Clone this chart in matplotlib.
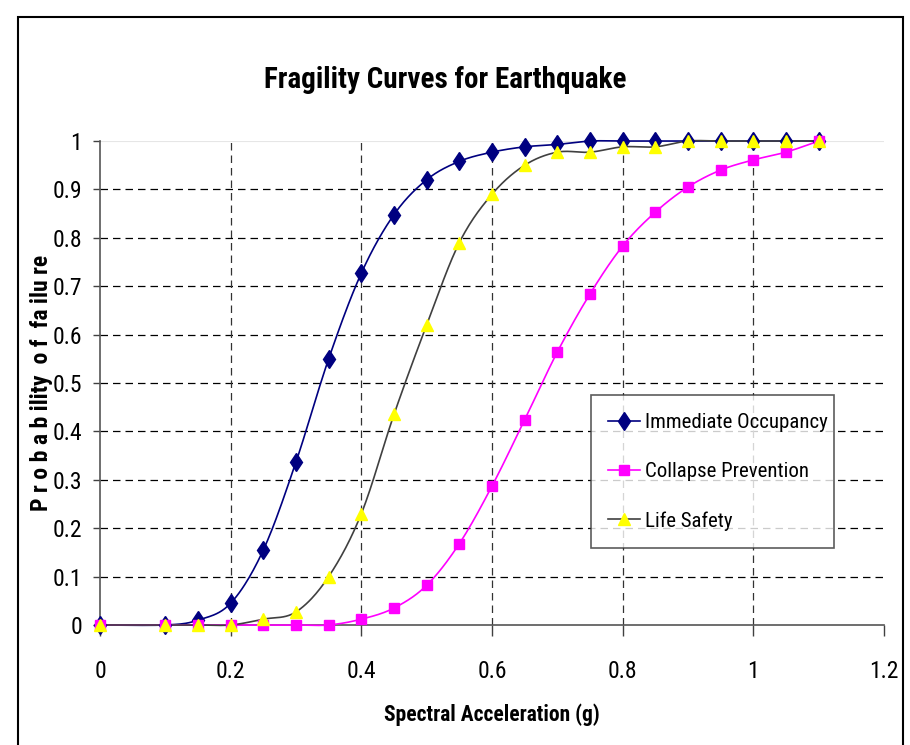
import numpy as np
import matplotlib.pyplot as plt
from matplotlib.patches import Rectangle

plt.rcParams['font.family'] = ['Roboto Condensed', 'PT Sans Narrow', 'DejaVu Sans']

# Spectral acceleration (g) and probability of failure per performance level
sa = [0, 0.1, 0.15, 0.2, 0.25, 0.3, 0.35, 0.4, 0.45, 0.5, 0.55, 0.6, 0.65,
      0.7, 0.75, 0.8, 0.85, 0.9, 0.95, 1.0, 1.05, 1.1]
immediate_occupancy = [0, 0, 0.01, 0.045, 0.155, 0.337, 0.55, 0.727, 0.848, 0.92,
                       0.958, 0.977, 0.988, 0.993, 1, 1, 1, 1, 1, 1, 1, 1]
collapse_prevention = [0, 0, 0, 0, 0, 0, 0, 0.012, 0.035, 0.082, 0.168, 0.287,
                       0.424, 0.564, 0.684, 0.783, 0.853, 0.905, 0.94, 0.961, 0.977, 1]
life_safety = [0, 0, 0, 0, 0.012, 0.027, 0.1, 0.23, 0.435, 0.62, 0.79, 0.89,
               0.95, 0.977, 0.977, 0.988, 0.988, 1, 1, 1, 1, 1]


def smooth(x, y, n=24):
    # piecewise cubic Bezier through the points (spreadsheet-style smoothed line)
    p = np.column_stack([x, y]).astype(float)
    out = [p[0]]
    t = np.linspace(0, 1, n)[1:, None]
    for i in range(len(p) - 1):
        p0 = p[i - 1] if i > 0 else p[i]
        p1, p2 = p[i], p[i + 1]
        p3 = p[i + 2] if i + 2 < len(p) else p[i + 1]
        c1 = p1 + (p2 - p0) / 6
        c2 = p2 - (p3 - p1) / 6
        seg = ((1 - t) ** 3) * p1 + 3 * ((1 - t) ** 2) * t * c1 + 3 * (1 - t) * t ** 2 * c2 + t ** 3 * p2
        out.extend(seg)
    out = np.array(out)
    return out[:, 0], out[:, 1]


fig = plt.figure(figsize=(9.1, 7.45), dpi=100)
ax = fig.add_axes([0.1099, 0.1611, 0.8615, 0.6496])

# outer chart border
fig.patches.append(Rectangle((18 / 910, -0.05), 885 / 910, 1 - 17 / 745 + 0.05,
                             transform=fig.transFigure, fill=False,
                             edgecolor='black', linewidth=1.5))

dash = (0, (6, 4))
for yv in np.arange(0.1, 0.95, 0.1):
    ax.axhline(yv, color='black', linewidth=0.9, linestyle=dash, zorder=1)
for xv in [0.2, 0.4, 0.6, 0.8, 1.0]:
    ax.axvline(xv, color='#333333', linewidth=0.9, linestyle=dash, zorder=1)
ax.axhline(1.0, color='#e6e6e6', linewidth=0.8, zorder=1)

series = [
    ('Immediate Occupancy', immediate_occupancy, '#000080', 'd', '#000080', 9.5),
    ('Collapse Prevention', collapse_prevention, '#ff00ff', 's', '#ff00ff', 6.5),
    ('Life Safety', life_safety, '#404040', '^', '#ffff00', 9),
]
for label, vals, lc, mk, mc, ms in series:
    xs, ys = smooth(sa, vals)
    ax.plot(xs, ys, color=lc, linewidth=1.2, zorder=3, clip_on=False)
    ax.plot(sa, vals, linestyle='none', marker=mk, markersize=ms,
            markerfacecolor=mc, markeredgecolor=mc, zorder=4, clip_on=False)
    ax.plot([], [], color=lc, linewidth=1.2, marker=mk, markersize=ms,
            markerfacecolor=mc, markeredgecolor=mc, label=label)

ax.set_xlim(0, 1.2)
ax.set_ylim(0, 1)
ax.set_xticks(np.arange(0, 1.21, 0.2))
ax.set_xticklabels(['0', '0.2', '0.4', '0.6', '0.8', '1', '1.2'])
ax.set_yticks(np.arange(0, 1.01, 0.1))
ax.set_yticklabels(['0', '0.1', '0.2', '0.3', '0.4', '0.5', '0.6', '0.7', '0.8', '0.9', '1'])
ax.tick_params(axis='x', direction='out', length=8, width=1, colors='#404040',
               labelcolor='black', labelsize=17, pad=17)
ax.tick_params(axis='y', direction='out', length=5, width=1, colors='#404040',
               labelcolor='black', labelsize=17, pad=8)

for s in ['top', 'right']:
    ax.spines[s].set_visible(False)
for s in ['left', 'bottom']:
    ax.spines[s].set_color('#555555')
    ax.spines[s].set_linewidth(1.2)

fig.text(445 / 910, 1 - 80 / 745, 'Fragility Curves for Earthquake', fontsize=21,
         fontweight='bold', ha='center', va='center')
ax.set_xlabel('Spectral Acceleration (g)', fontsize=15.5, fontweight='bold')
ax.xaxis.set_label_coords(0.5, -0.163)
ax.set_ylabel('P r o b a b ility  o f  fa ilu re', fontsize=17, fontweight='bold')
ax.yaxis.set_label_coords(-0.06, 0.5)

leg = ax.legend(loc='upper left', bbox_to_anchor=(0.626, 0.149, 0.31, 0.326), mode='expand',
                borderaxespad=0, fontsize=15, frameon=True, fancybox=False, edgecolor='#333333',
                borderpad=0.85, labelspacing=1.45, handlelength=1.5, handletextpad=0.25)
leg.get_frame().set_linewidth(1.2)

fig.savefig('out.png', dpi=100)
